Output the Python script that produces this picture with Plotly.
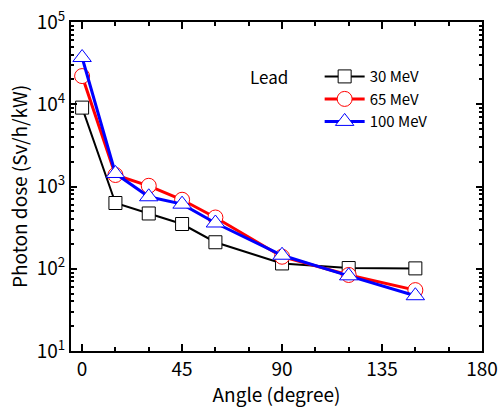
import plotly.graph_objects as go

angles = [0, 15, 30, 45, 60, 90, 120, 150]
dose_30 = [9100, 630, 470, 350, 210, 116, 102, 101]
dose_65 = [22000, 1380, 1020, 690, 420, 140, 84, 55]
dose_100 = [37000, 1440, 750, 610, 360, 146, 82, 47]

series = [
    ("30 MeV", dose_30, "black", "square", 13, 2),
    ("65 MeV", dose_65, "red", "circle", 15, 3),
    ("100 MeV", dose_100, "blue", "triangle-up", 16, 3),
]

x_ticks = [0, 45, 90, 135, 180]
y_ticks = [10, 100, 1000, 10000, 100000]
y_labels = ["10<sup>1</sup>", "10<sup>2</sup>", "10<sup>3</sup>", "10<sup>4</sup>", "10<sup>5</sup>"]

FONT = "Noto Sans CJK JP"

fig = go.Figure()
for name, vals, col, sym, size, lw in series:
    fig.add_trace(go.Scatter(
        x=angles, y=vals, name=name, mode="lines+markers",
        line=dict(color=col, width=lw),
        marker=dict(symbol=sym, size=size, color="white",
                    line=dict(color=col, width=1)),
    ))

fig.update_layout(
    width=499, height=407,
    margin=dict(l=71, r=17, t=22, b=56),
    paper_bgcolor="white", plot_bgcolor="white",
    font=dict(family=FONT, size=17, color="black"),
    showlegend=True,
    legend=dict(x=0.605, y=0.884, xanchor="left", yanchor="top",
                bgcolor="rgba(0,0,0,0)", font=dict(size=15, family=FONT),
                itemwidth=40, tracegroupgap=0),
    annotations=[dict(text="Lead", x=0.43, y=0.833, xref="paper", yref="paper",
                      showarrow=False, xanchor="left", yanchor="middle",
                      font=dict(size=17, family=FONT))],
)
fig.update_xaxes(
    range=[-5, 180], tickvals=x_ticks, ticktext=[str(v) for v in x_ticks],
    ticks="inside", ticklen=7, tickwidth=2, tickcolor="black",
    showline=True, linecolor="black", linewidth=2, mirror="ticks",
    showgrid=False, zeroline=False, automargin=False,
    minor=dict(tickvals=[15, 30, 60, 75, 105, 120, 150, 165], ticks="inside",
               ticklen=4, tickwidth=2, tickcolor="black", showgrid=False),
    title=dict(text="Angle (degree)", standoff=7, font=dict(size=19)),
    tickfont=dict(size=19),
)
fig.update_yaxes(
    type="log", range=[1, 5], tickvals=y_ticks, ticktext=y_labels,
    ticks="inside", ticklen=6, tickwidth=2, tickcolor="black",
    showline=True, linecolor="black", linewidth=2, mirror="ticks",
    showgrid=False, zeroline=False, automargin=False,
    minor=dict(dtick="D1", ticks="inside", ticklen=3, tickwidth=1.5,
               tickcolor="black", showgrid=False),
    title=dict(text="Photon dose (Sv/h/kW)", standoff=4, font=dict(size=19)),
    tickfont=dict(size=19),
)

fig.write_html("out.html", config={"displayModeBar": False},
               post_script="document.body.style.margin='0';")
